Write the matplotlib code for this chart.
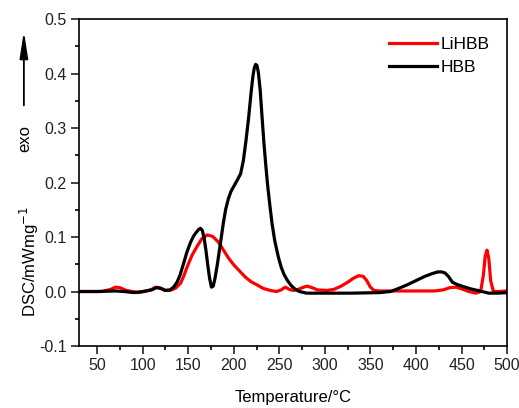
import matplotlib
matplotlib.use("Agg")
import matplotlib.pyplot as plt
from matplotlib.ticker import MultipleLocator

plt.rcParams['font.family'] = ['Liberation Sans', 'DejaVu Sans']

# DSC traces (temperature in degC, heat flow in mW/mg)
hbb_T = [30, 50, 70, 80, 90, 100, 110, 115, 120, 125, 130, 134, 138, 141, 145, 148.5,
         152.5, 156, 159, 161.5, 163.5, 165.5, 167.5, 169.5, 171.5, 173.5, 175.5,
         177.5, 179.5, 182, 185.5, 188.5, 191, 194, 197, 200, 204, 207.5, 210.5, 213.5,
         216.5, 219, 221, 222.5, 224, 225.5, 227, 229, 231, 233, 235, 237, 239.5, 242,
         245, 249, 252, 255, 259, 263, 267, 272, 280, 300, 330, 360, 372, 380, 390,
         400, 410, 418, 424, 428, 432, 436, 440, 445, 452, 460, 470, 480, 490, 500]
hbb_dsc = [0.0, 0.0, 0.001, 0.0, -0.002, 0.0, 0.003, 0.007, 0.006, 0.002, 0.003, 0.008,
           0.018, 0.03, 0.052, 0.072, 0.09, 0.102, 0.109, 0.114, 0.116, 0.112, 0.098,
           0.075, 0.048, 0.024, 0.008, 0.01, 0.025, 0.05, 0.09, 0.125, 0.15, 0.17, 0.184,
           0.193, 0.205, 0.216, 0.24, 0.278, 0.322, 0.365, 0.395, 0.41, 0.417, 0.415,
           0.402, 0.37, 0.322, 0.275, 0.235, 0.198, 0.16, 0.125, 0.093, 0.063, 0.045,
           0.032, 0.02, 0.011, 0.005, 0.0, -0.003, -0.003, -0.003, -0.002, 0.0, 0.005,
           0.012, 0.02, 0.028, 0.033, 0.036, 0.036, 0.034, 0.027, 0.017, 0.013, 0.009,
           0.005, 0.001, -0.003, -0.003, -0.002]

lihbb_T = [30, 55, 65, 70, 75, 82, 95, 105, 110, 114, 118, 124, 130, 136, 141.5, 145,
           148.8, 154, 159.8, 165, 171, 177, 183, 188.7, 194, 200, 207.3, 213, 219,
           225.7, 232, 240, 247, 252, 256.5, 261, 265, 269.5, 275, 280.5, 286, 292,
           302.5, 310, 318, 325, 331, 337, 342, 346, 350, 354, 360, 380, 400, 420, 430,
           437, 444, 450, 458, 466, 471, 474, 476, 478, 480, 482, 485, 490, 500]
lihbb_dsc = [0.0, 0.0, 0.004, 0.008, 0.007, 0.002, -0.002, 0.001, 0.004, 0.008, 0.007,
             0.002, 0.002, 0.006, 0.015, 0.028, 0.045, 0.066, 0.083, 0.097, 0.104,
             0.101, 0.091, 0.076, 0.062, 0.049, 0.036, 0.026, 0.018, 0.012, 0.006, 0.002,
             0.0, 0.003, 0.008, 0.004, 0.002, 0.003, 0.007, 0.01, 0.007, 0.003, 0.002,
             0.004, 0.01, 0.017, 0.024, 0.029, 0.028, 0.02, 0.008, 0.002, 0.001, 0.001,
             0.001, 0.001, 0.003, 0.007, 0.008, 0.005, 0.0, -0.003, 0.0, 0.03, 0.065,
             0.076, 0.06, 0.02, 0.0, 0.0, 0.001]

fig = plt.figure(figsize=(5.19, 4.08), dpi=100)
ax = fig.add_axes([0.152, 0.152, 0.825, 0.801])

ax.plot(lihbb_T, lihbb_dsc, color='#ff0000', lw=2.3, label='LiHBB')
ax.plot(hbb_T, hbb_dsc, color='black', lw=2.3, label='HBB')

ax.set_xlim(30, 500)
ax.set_ylim(-0.1, 0.5)
ax.xaxis.set_minor_locator(MultipleLocator(25))
ax.yaxis.set_minor_locator(MultipleLocator(0.05))
ax.set_xticks([50, 100, 150, 200, 250, 300, 350, 400, 450, 500])
ax.set_yticks([-0.1, 0.0, 0.1, 0.2, 0.3, 0.4, 0.5])
ax.set_yticklabels(['-0.1', '0.0', '0.1', '0.2', '0.3', '0.4', '0.5'])
ax.tick_params(which='major', direction='out', length=5.5, width=1.2, labelsize=11.5,
               colors='#222222')
ax.tick_params(which='minor', direction='out', length=3, width=1.2)
for sp in ax.spines.values():
    sp.set_linewidth(1.2)

ax.set_xlabel('Temperature/°C', fontsize=12, labelpad=12)
fig.text(0.056, 0.358, 'DSC/mWmg$^{-1}$', rotation=90, fontsize=12,
         ha='center', va='center')
fig.text(0.047, 0.66, 'exo', rotation=90, fontsize=12, ha='center', va='center')
ax.annotate('', xy=(0.046, 0.93), xytext=(0.046, 0.735), xycoords='figure fraction',
            textcoords='figure fraction',
            arrowprops=dict(arrowstyle='-|>,head_length=1.6,head_width=0.25',
                            color='black', lw=1.3))

ax.legend(loc='upper right', frameon=False, fontsize=12.5, handlelength=2.8,
          handletextpad=0.2, labelspacing=0.45, borderaxespad=0.6)

fig.savefig('out.png', dpi=100)
